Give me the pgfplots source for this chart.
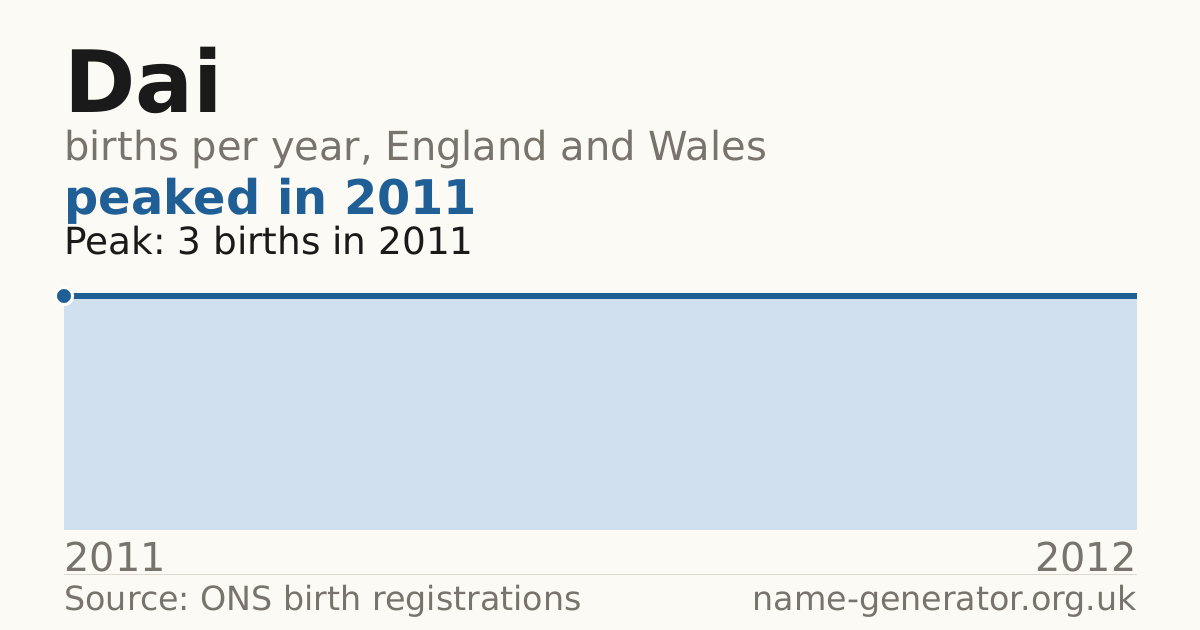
\documentclass[border=0pt]{standalone}
\usepackage{pgfplots}
\pgfplotsset{compat=1.18}
\usepackage{fontspec}
\setmainfont{DejaVu Sans}

\definecolor{bg}{HTML}{FBFAF5}
\definecolor{lineblue}{HTML}{1F5F96}
\definecolor{fillblue}{HTML}{D0E0EF}
\definecolor{greytext}{HTML}{78746C}
\definecolor{darktext}{HTML}{1A1A1A}
\definecolor{rule}{HTML}{DDD9CF}

% 1 px of the reference = 0.5pt
\begin{document}
\frenchspacing
\begin{tikzpicture}
  \useasboundingbox (0pt,0pt) rectangle (600pt,315pt);
  \fill[bg] (0pt,0pt) rectangle (600pt,315pt);

  % headings
  \node[anchor=base west, inner sep=0, text=darktext, font=\fontsize{43}{43}\selectfont\bfseries] at (32pt,258.5pt) {Dai};
  \node[anchor=base west, inner sep=0, text=greytext, font=\fontsize{20}{20}\selectfont] at (32pt,234.5pt) {births per year, England and Wales};
  \node[anchor=base west, inner sep=0, text=lineblue, font=\fontsize{23.9}{23.9}\selectfont\bfseries] at (32pt,207.5pt) {peaked in 2011};
  \node[anchor=base west, inner sep=0, text=darktext, font=\fontsize{18.7}{18.7}\selectfont] at (32pt,187.5pt) {Peak: 3 births in 2011};

  \begin{axis}[
      at={(32pt,50pt)}, anchor=south west,
      width=536.5pt, height=117pt, scale only axis,
      xmin=0, xmax=1, ymin=0, ymax=3,
      hide axis, clip=false,
    ]
    % x = year - 2011
    \addplot[fill=fillblue, draw=none] coordinates {(0,3) (1,3)} \closedcycle;
    \addplot[lineblue, line width=3pt] coordinates {(0,3) (1,3)};
    \addplot[only marks, mark=*, mark size=4.3pt,
             mark options={fill=lineblue, draw=white, line width=1.5pt}]
      coordinates {(0,3)};
  \end{axis}

  % year labels
  \node[anchor=base west, inner sep=0, text=greytext, font=\fontsize{19.9}{19.9}\selectfont] at (32pt,29pt) {2011};
  \node[anchor=base east, inner sep=0, text=greytext, font=\fontsize{19.9}{19.9}\selectfont] at (568.5pt,29pt) {2012};

  % rule and footer
  \draw[rule, line width=0.5pt] (32pt,27.5pt) -- (568.5pt,27.5pt);
  \node[anchor=base west, inner sep=0, text=greytext, font=\fontsize{16.65}{16.65}\selectfont] at (32pt,9.5pt) {Source: ONS birth registrations};
  \node[anchor=base east, inner sep=0, text=greytext, font=\fontsize{16.65}{16.65}\selectfont] at (568.5pt,9.5pt) {name-generator.org.uk};
\end{tikzpicture}
\end{document}
